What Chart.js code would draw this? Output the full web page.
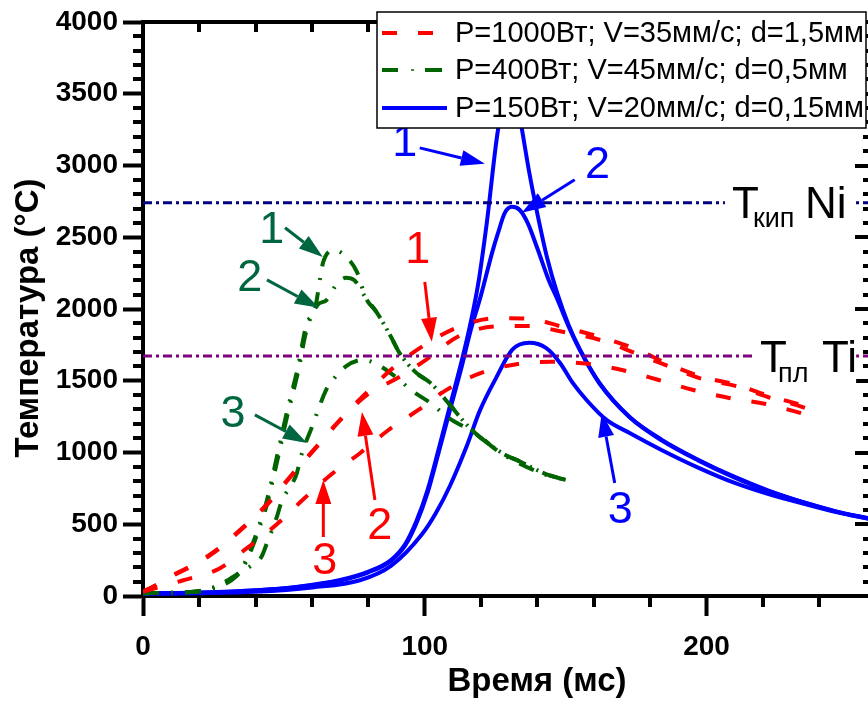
<!DOCTYPE html>
<html>
<head>
<meta charset="utf-8">
<script src="https://cdn.jsdelivr.net/npm/chart.js@4.4.1/dist/chart.umd.min.js"></script>
<style>
    html, body { margin: 0; padding: 0; background: #fff; overflow: hidden; }
    #wrap { width: 880px; height: 701px; }
</style>
</head>
<body>
<div id="wrap"><canvas id="chartTemp" width="880" height="701"></canvas></div>
<script>
// Температура поверхности во времени, три режима (по 3 кривые)

const seriesNames = ['P=1000Вт; V=35мм/с; d=1,5мм', 'P=400Вт; V=45мм/с; d=0,5мм', 'P=150Вт; V=20мм/с; d=0,15мм'];

const tRed12 = [0, 5, 11, 18, 25, 35, 44, 53, 61.5, 70, 80, 90, 100, 112, 125, 137, 148, 163, 175, 186, 198, 211, 222, 232, 238];
const red1 = [30, 80, 150, 220, 305, 470, 640, 850, 1040, 1230, 1430, 1610, 1750, 1875, 1935, 1932, 1880, 1800, 1720, 1620, 1530, 1470, 1395, 1340, 1300];
const red2 = [30, 78, 145, 215, 300, 465, 635, 845, 1035, 1225, 1410, 1515, 1640, 1810, 1878, 1882, 1845, 1780, 1690, 1605, 1515, 1460, 1385, 1330, 1290];
const tRed3 = [0, 7, 14, 27, 37, 47.5, 57, 67, 77, 87, 98, 108, 120, 133, 145, 158, 170, 183, 195, 208, 221, 236];
const red3 = [30, 70, 108, 190, 335, 500, 676, 850, 995, 1155, 1300, 1440, 1555, 1617, 1632, 1618, 1575, 1505, 1437, 1380, 1338, 1262];

const tGreen1 = [0, 15, 22, 28, 31, 35, 39, 41, 44, 47.5, 51, 55, 58, 61, 64, 68, 72.5, 76, 79, 83, 88, 91, 97, 102, 109, 115, 120, 128, 134, 143, 150];
const green1 = [20, 25, 40, 80, 112, 190, 369, 481, 669, 969, 1276, 1597, 1890, 2000, 2330, 2410, 2355, 2255, 2080, 1975, 1806, 1694, 1555, 1485, 1330, 1190, 1100, 990, 935, 850, 809];
const tGreen2 = [0, 15, 22, 28, 31, 35, 39, 41, 44, 47.5, 51, 55, 58, 62, 65, 69, 72, 75, 79, 83, 88, 91, 97, 102, 109, 115, 120, 128, 134, 143, 150];
const green2 = [20, 25, 38, 75, 105, 180, 350, 460, 640, 930, 1240, 1560, 1850, 2030, 2060, 2180, 2217, 2200, 2080, 1975, 1806, 1694, 1555, 1485, 1330, 1190, 1100, 990, 935, 850, 809];
const tGreen3 = [0, 15, 25, 35, 39, 42, 44, 47.5, 49, 54.6, 56, 60, 65, 67.4, 72, 78, 82, 91, 95, 102, 108, 120, 124, 130, 143, 150];
const green3 = [20, 25, 60, 170, 220, 272, 369, 551, 648, 857, 969, 1180, 1436, 1506, 1600, 1645, 1625, 1506, 1436, 1345, 1248, 1108, 1039, 960, 844, 809];

const tBlue1 = [0, 20, 40, 55, 70, 80, 88, 93, 97, 101, 105, 109, 113, 116, 119, 122, 126, 131, 134.5, 137, 140, 143.5, 147, 151, 155, 162, 172.7, 184, 197, 210, 222, 235, 246, 258];
const blue1 = [20, 25, 40, 65, 112, 170, 251, 360, 520, 740, 1030, 1330, 1630, 1880, 2180, 2600, 3250, 3650, 3250, 2960, 2660, 2350, 2110, 1890, 1720, 1485, 1248, 1090, 950, 830, 735, 650, 590, 540];
const tBlue2 = [0, 20, 40, 55, 70, 80, 88, 93, 97, 101, 105, 109, 113, 116, 120, 124, 126, 128.4, 131, 133.7, 136.5, 140, 144, 147, 151, 155, 162, 172.7, 184, 197, 210, 222, 235, 246, 258];
const blue2 = [18, 23, 38, 62, 108, 165, 245, 350, 505, 720, 1005, 1300, 1590, 1830, 2100, 2400, 2530, 2670, 2712, 2690, 2600, 2420, 2200, 2070, 1880, 1715, 1480, 1245, 1085, 945, 825, 730, 648, 588, 538];
const tBlue3 = [0, 20, 40, 60, 77, 88, 99, 104, 109, 115, 119.5, 125.5, 131, 137, 143, 148, 152.5, 157.4, 164.5, 172.7, 184, 197, 210, 222, 235, 246, 258];
const blue3 = [15, 20, 30, 60, 110, 210, 430, 580, 770, 1050, 1290, 1527, 1715, 1764, 1729, 1624, 1485, 1366, 1227, 1136, 1018, 895, 788, 710, 640, 585, 535];

// реперные температуры
const tBoilNi = 2740;
const tMeltTi = 1673;

const xTicks = [0, 100, 200];
const yTicks = [0, 500, 1000, 1500, 2000, 2500, 3000, 3500, 4000];

// подписи 1,2,3 со стрелками (в координатах данных)
const annLabel = ['1', '2', '3', '1', '2', '3', '1', '2', '3'];
const annColor = ['#0000ff', '#0000ff', '#0000ff', '#ff0000', '#ff0000', '#ff0000', '#00663f', '#00663f', '#00663f'];
const annTextX = [92.9, 161.3, 169.4, 97.5, 84, 64.5, 45.7, 37.9, 31.9];
const annTextY = [3179, 3026, 620, 2433, 509, 265, 2572, 2238, 1290];
const annFromX = [98.2, 153.2, 167.4, 100, 82.3, 64, 50.4, 44, 39.7];
const annFromY = [3123, 2900, 788, 2189, 669, 411, 2566, 2203, 1262];
const annToX = [121.3, 134.4, 162.8, 102.5, 77.7, 64, 63.8, 62.4, 58.2];
const annToY = [3012, 2670, 1276, 1771, 1283, 809, 2363, 2008, 1067];

const FONT = '"Liberation Sans", Arial, sans-serif';

function pts(t, v) {
    return t.map((x, i) => ({ x: x, y: v[i] }));
}

function curve(t, v, color, dash) {
    return {
        data: pts(t, v),
        borderColor: color,
        borderWidth: 4,
        borderDash: dash,
        pointRadius: 0,
        fill: false,
        cubicInterpolationMode: 'monotone'
    };
}

function refLine(val, color) {
    return {
        data: [{ x: 0, y: val }, { x: 258, y: val }],
        borderColor: color,
        borderWidth: 3,
        borderDash: [9, 4, 3, 4],
        pointRadius: 0,
        fill: false
    };
}

function arrow(ctx, x0, y0, x1, y1, color) {
    var ang = Math.atan2(y1 - y0, x1 - x0);
    var L = 24, W = 8;
    var bx = x1 - L * Math.cos(ang), by = y1 - L * Math.sin(ang);
    ctx.strokeStyle = color;
    ctx.fillStyle = color;
    ctx.lineWidth = 3;
    ctx.setLineDash([]);
    ctx.beginPath();
    ctx.moveTo(x0, y0);
    ctx.lineTo(bx, by);
    ctx.stroke();
    ctx.beginPath();
    ctx.moveTo(x1, y1);
    ctx.lineTo(bx + W * Math.sin(ang), by - W * Math.cos(ang));
    ctx.lineTo(bx - W * Math.sin(ang), by + W * Math.cos(ang));
    ctx.closePath();
    ctx.fill();
}

const decor = {
    id: 'decor',
    afterDraw(chart) {
        const ctx = chart.ctx, a = chart.chartArea;
        const x = chart.scales.x, y = chart.scales.y;
        ctx.save();
        ctx.setLineDash([]);
        ctx.strokeStyle = '#000';
        ctx.lineWidth = 4;

        // малые деления и рамка сверху/справа
        ctx.beginPath();
        for (let v = 100; v < 4000; v += 100) {
            const py = Math.round(y.getPixelForValue(v));
            if (v % 500 !== 0) {
                ctx.moveTo(a.left - 10, py); ctx.lineTo(a.left, py);
                ctx.moveTo(a.right, py); ctx.lineTo(a.right - 7, py);
            } else {
                ctx.moveTo(a.right, py); ctx.lineTo(a.right - 15, py);
            }
        }
        for (let v = 20; v < 258; v += 20) {
            const px = Math.round(x.getPixelForValue(v));
            if (v % 100 !== 0) {
                ctx.moveTo(px, a.bottom); ctx.lineTo(px, a.bottom + 11);
                ctx.moveTo(px, a.top); ctx.lineTo(px, a.top + 10);
            } else {
                ctx.moveTo(px, a.top); ctx.lineTo(px, a.top + 18);
            }
        }
        ctx.moveTo(a.left - 2, a.top); ctx.lineTo(a.right, a.top);
        ctx.moveTo(a.right, a.top); ctx.lineTo(a.right, a.bottom);
        ctx.stroke();

        // подписи реперных линий
        ctx.textBaseline = 'alphabetic';
        ctx.textAlign = 'left';
        let yNi = y.getPixelForValue(tBoilNi);
        let xNi = x.getPixelForValue(209);
        ctx.fillStyle = '#fff';
        ctx.fillRect(xNi - 7, yNi - 22, 131, 52);
        ctx.fillStyle = '#000';
        ctx.font = '44px ' + FONT;
        ctx.fillText('T', xNi, yNi + 15);
        ctx.font = '27px ' + FONT;
        ctx.fillText('кип', xNi + 21, yNi + 24);
        ctx.font = '44px ' + FONT;
        ctx.fillText('Ni', xNi + 73, yNi + 15);

        let yTi = y.getPixelForValue(tMeltTi);
        let xTi = x.getPixelForValue(219);
        ctx.fillStyle = '#fff';
        ctx.fillRect(xTi - 5, yTi - 22, 101, 52);
        ctx.fillStyle = '#000';
        ctx.font = '44px ' + FONT;
        ctx.fillText('T', xTi, yTi + 16);
        ctx.font = '27px ' + FONT;
        ctx.fillText('пл', xTi + 18, yTi + 26);
        ctx.font = '44px ' + FONT;
        ctx.fillText('Ti', xTi + 62, yTi + 16);

        // номера кривых и стрелки
        ctx.textAlign = 'center';
        ctx.font = '45px ' + FONT;
        for (let i = 0; i < annLabel.length; i++) {
            arrow(ctx, x.getPixelForValue(annFromX[i]), y.getPixelForValue(annFromY[i]),
                x.getPixelForValue(annToX[i]), y.getPixelForValue(annToY[i]), annColor[i]);
            ctx.fillStyle = annColor[i];
            ctx.fillText(annLabel[i], x.getPixelForValue(annTextX[i]), y.getPixelForValue(annTextY[i]) + 16);
        }

        // легенда
        ctx.fillStyle = '#fff';
        ctx.fillRect(377, 12, 489, 116);
        ctx.strokeStyle = '#000';
        ctx.lineWidth = 1.5;
        ctx.strokeRect(377, 12, 489, 116);
        const rows = [33, 70, 108];
        ctx.lineWidth = 4;
        ctx.strokeStyle = '#ff0000';
        ctx.beginPath();
        ctx.moveTo(382, rows[0]); ctx.lineTo(397, rows[0]);
        ctx.moveTo(418, rows[0]); ctx.lineTo(433, rows[0]);
        ctx.stroke();
        ctx.strokeStyle = '#006400';
        ctx.beginPath();
        ctx.moveTo(382, rows[1]); ctx.lineTo(398, rows[1]);
        ctx.moveTo(425, rows[1]); ctx.lineTo(442, rows[1]);
        ctx.stroke();
        ctx.lineWidth = 1.5;
        ctx.beginPath();
        ctx.moveTo(411, rows[1]); ctx.lineTo(414, rows[1]);
        ctx.stroke();
        ctx.lineWidth = 4;
        ctx.strokeStyle = '#0000ff';
        ctx.beginPath();
        ctx.moveTo(382, rows[2]); ctx.lineTo(447, rows[2]);
        ctx.stroke();
        ctx.fillStyle = '#000';
        ctx.textAlign = 'left';
        ctx.textBaseline = 'middle';
        ctx.font = '29px ' + FONT;
        for (let i = 0; i < 3; i++) {
            ctx.fillText(seriesNames[i], 455, rows[i] + 1);
        }

        // названия осей
        ctx.font = 'bold 33px ' + FONT;
        ctx.textAlign = 'center';
        ctx.fillText('Время (мс)', 537, 682);
        ctx.translate(29, 318);
        ctx.rotate(-Math.PI / 2);
        ctx.fillText('Температура (°C)', 0, 0);
        ctx.restore();
    }
};

const ctx = document.getElementById('chartTemp').getContext('2d');

const chart = new Chart(ctx, {
    type: 'line',
    data: {
        datasets: [
            refLine(tBoilNi, '#000080'),
            refLine(tMeltTi, '#800080'),
            curve(tRed12, red1, '#ff0000', [15, 21]),
            curve(tRed12, red2, '#ff0000', [15, 21]),
            curve(tRed3, red3, '#ff0000', [15, 21]),
            curve(tGreen1, green1, '#006400', [16, 12, 2, 12]),
            curve(tGreen2, green2, '#006400', [16, 12, 2, 12]),
            curve(tGreen3, green3, '#006400', [16, 12, 2, 12]),
            curve(tBlue1, blue1, '#0000ff', []),
            curve(tBlue2, blue2, '#0000ff', []),
            curve(tBlue3, blue3, '#0000ff', [])
        ]
    },
    options: {
        responsive: false,
        animation: false,
        devicePixelRatio: 1,
        layout: { padding: { left: 0, top: 22, right: 10, bottom: 0 } },
        plugins: { legend: { display: false }, tooltip: { enabled: false } },
        scales: {
            x: {
                type: 'linear',
                min: 0,
                max: 258,
                border: { color: '#000', width: 4 },
                grid: { drawOnChartArea: false, drawTicks: true, tickLength: 20, tickWidth: 4, tickColor: '#000' },
                ticks: { font: { family: FONT, size: 28, weight: 'bold' }, color: '#000', padding: 14, maxRotation: 0, callback: v => String(v) },
                afterBuildTicks: s => { s.ticks = xTicks.map(v => ({ value: v })); },
                afterFit: s => { s.height = 105; }
            },
            y: {
                min: 0,
                max: 4000,
                border: { color: '#000', width: 4 },
                grid: { drawOnChartArea: false, drawTicks: true, tickLength: 20, tickWidth: 4, tickColor: '#000' },
                ticks: { font: { family: FONT, size: 28, weight: 'bold' }, color: '#000', padding: 5, callback: v => String(v) },
                afterBuildTicks: s => { s.ticks = yTicks.map(v => ({ value: v })); },
                afterFit: s => { s.width = 143; }
            }
        }
    },
    plugins: [decor]
});
</script>
</body>
</html>
